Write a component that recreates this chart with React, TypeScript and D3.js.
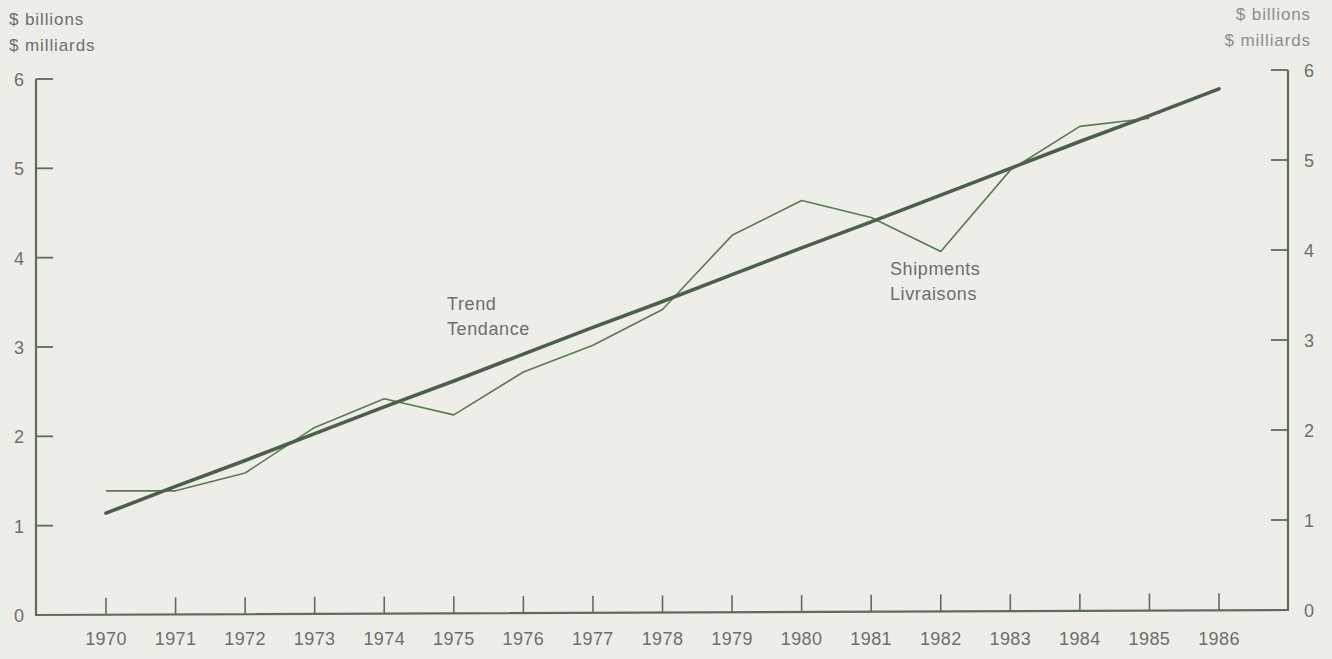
import React from 'react';
import * as d3 from 'd3';

const years = [1970, 1971, 1972, 1973, 1974, 1975, 1976, 1977, 1978, 1979, 1980, 1981, 1982, 1983, 1984, 1985, 1986];
const yTicks = [0, 1, 2, 3, 4, 5, 6];

// shipments end at 1985
const shipmentYears = [1970, 1971, 1972, 1973, 1974, 1975, 1976, 1977, 1978, 1979, 1980, 1981, 1982, 1983, 1984, 1985];
const shipments = [1.39, 1.39, 1.59, 2.1, 2.42, 2.24, 2.72, 3.02, 3.42, 4.25, 4.64, 4.45, 4.07, 4.98, 5.47, 5.56];
const trend = [1.14, 1.44, 1.73, 2.03, 2.33, 2.62, 2.92, 3.22, 3.51, 3.81, 4.11, 4.4, 4.7, 5.0, 5.3, 5.59, 5.89];

const W = 1332;
const H = 659;
const left = 36;
const right = 1288;

const font = '"Liberation Sans", Arial, sans-serif';
const textColor = '#6b706b';
const axisColor = '#5f6d5c';

export default function App() {
  const x = d3.scaleLinear().domain([1970, 1986]).range([106, 1219]);
  const y = d3.scaleLinear().domain([0, 6]).range([615, 79]);
  // the scan is slightly skewed: right-hand axis sits a few px higher
  const yR = d3.scaleLinear().domain([0, 6]).range([610, 70]);
  const base = d3.scaleLinear().domain([left, right]).range([615, 610]);

  const shipLine = d3.line<number>()
    .x((_, i) => x(shipmentYears[i]))
    .y((d) => y(d));
  const trendLine = d3.line<number>()
    .x((_, i) => x(years[i]))
    .y((d) => y(d));

  return (
    <div style={{ position: 'fixed', top: 0, left: 0, width: W, height: H, background: '#edeee7' }}>
      <svg width={W} height={H} style={{ display: 'block' }}>
        <rect width={W} height={H} fill="#edeee7" />

        {/* axis titles */}
        <g fontFamily={font} fontSize={17} fill={textColor} letterSpacing={0.9}>
          <text x={9} y={25}>$ billions</text>
          <text x={9} y={51}>$ milliards</text>
          <text x={1311} y={20} textAnchor="end" fill="#8a8e8a">$ billions</text>
          <text x={1311} y={46} textAnchor="end" fill="#8a8e8a">$ milliards</text>
        </g>

        {/* frame */}
        <path
          d={`M${left},${y(6)} V${y(0)} L${right},${yR(0)} V${yR(6)}`}
          fill="none"
          stroke={axisColor}
          strokeWidth={2.2}
        />

        {/* y ticks both sides */}
        {yTicks.filter((t) => t > 0).map((t) => (
          <g key={t}>
            <line x1={left} x2={left + 17} y1={y(t)} y2={y(t)} stroke={axisColor} strokeWidth={1.8} />
            <line x1={right - 17} x2={right} y1={yR(t)} y2={yR(t)} stroke={axisColor} strokeWidth={1.8} />
          </g>
        ))}
        <g fontFamily={font} fontSize={18} fill={textColor} textAnchor="middle">
          {yTicks.map((t) => (
            <g key={t}>
              <text x={19} y={y(t) + 7}>{t}</text>
              <text x={1309} y={yR(t) + 7}>{t}</text>
            </g>
          ))}
        </g>

        {/* x ticks */}
        {years.map((yr) => (
          <line key={yr} x1={x(yr)} x2={x(yr)} y1={base(x(yr))} y2={base(x(yr)) - 17} stroke={axisColor} strokeWidth={1.6} />
        ))}
        <g fontFamily={font} fontSize={18} fill={textColor} textAnchor="middle" letterSpacing={0.4}>
          {years.map((yr) => (
            <text key={yr} x={x(yr)} y={645}>{yr}</text>
          ))}
        </g>

        {/* series */}
        <path d={shipLine(shipments) || ''} fill="none" stroke="#5a7a52" strokeWidth={1.6} strokeLinejoin="round" />
        <path d={trendLine(trend) || ''} fill="none" stroke="#4e5e4c" strokeWidth={3.6} strokeLinecap="round" />

        {/* labels */}
        <g fontFamily={font} fontSize={18} fill={textColor} letterSpacing={0.6}>
          <text x={447} y={310}>Trend</text>
          <text x={447} y={335}>Tendance</text>
          <text x={890} y={275}>Shipments</text>
          <text x={890} y={300}>Livraisons</text>
        </g>
      </svg>
    </div>
  );
}
